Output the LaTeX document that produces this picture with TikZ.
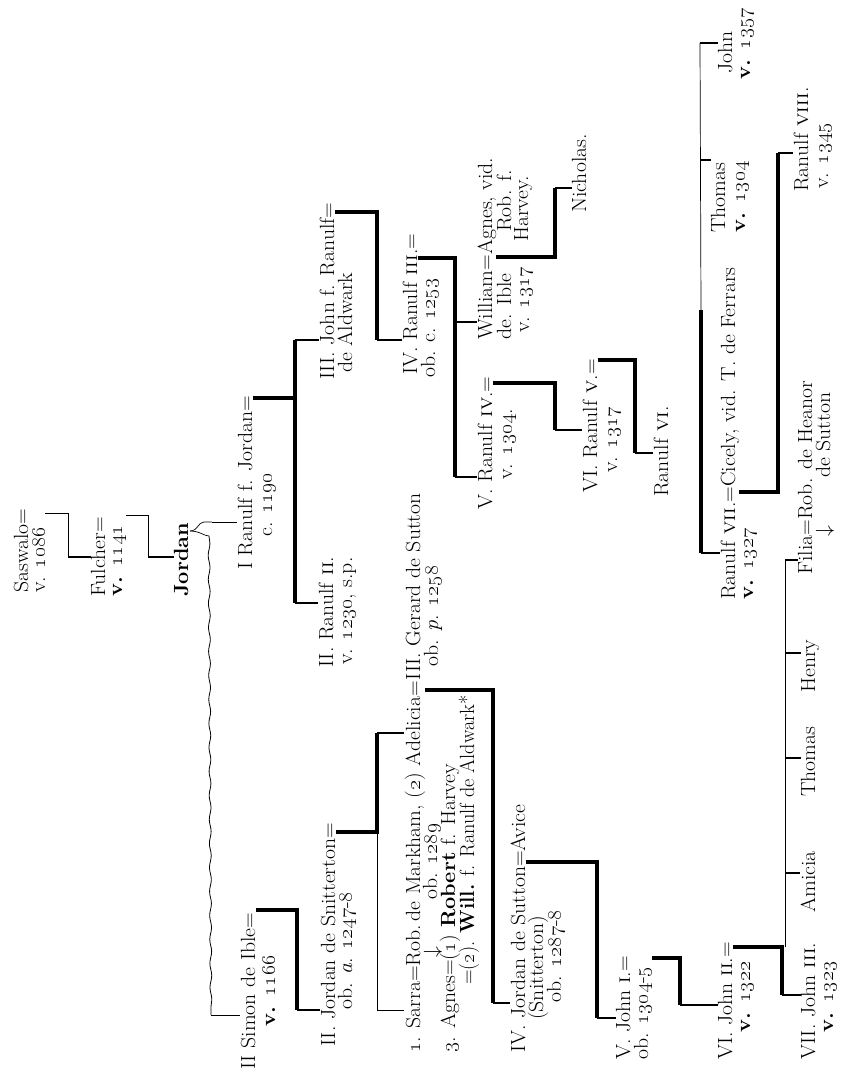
\RequirePackage{fix-cm}
\documentclass[tikz,border=0pt]{standalone}
\usetikzlibrary{decorations.pathmorphing}
\newcommand\os[1]{\oldstylenums{#1}}
\newcommand\rn[1]{\textsc{#1}}
\begin{document}
\begin{tikzpicture}[x=1pt,y=-1pt,
  lbl/.style={rotate=90,xscale=1.06,anchor=base west,inner sep=0pt,
              font=\fontsize{20.5}{22}\selectfont},
  heavy/.style={line width=3.4pt,line join=miter},
  light/.style={line width=0.7pt},
  dtick/.style={line width=2.8pt},
  wavy/.style={line width=0.8pt,decorate,
               decoration={snake,amplitude=0.9pt,segment length=24pt}}]
\useasboundingbox[fill=white] (0,0) rectangle (842,1073);

% ---------- early generations ----------
\node[lbl] (sas1) at (28,593) {Saswalo=};
\node[lbl] (sas2) at (45,593) {v. \os{1086}};
\node[lbl] (ful1) at (105,597) {Fulcher=};
\node[lbl] (ful2) at (122,597) {\textbf{v. \os{1141}}};
\node[lbl] (jor)  at (188,597) {\textbf{Jordan}};

\node[lbl] (ran1a) at (252,570) {I Ranulf f. Jordan=};
\node[lbl] (ran1b) at (272,537) {c. \os{1190}};
\node[lbl] (sim1) at (255,1070) {II Simon de Ible=};
\node[lbl] (sim2) at (275,1027) {\textbf{v. \os{1166}}};

% ---------- line of Ranulf ----------
\node[lbl] (ran2a) at (333,668) {II. Ranulf \rn{ii}.};
\node[lbl] (ran2b) at (352,665) {v. \os{1230}, s.p.};
\node[lbl] (joh1a) at (334,380) {III. John f. Ranulf=};
\node[lbl] (joh1b) at (352,373) {de Aldwark};
\node[lbl] (ran3a) at (417,375) {IV. Ranulf \rn{iii}.=};
\node[lbl] (ran3b) at (435,378) {ob. c. \os{1253}};
\node[lbl] (wil1) at (492,340) {William=Agnes, vid.};
\node[lbl] (wil2) at (511,340) {de. Ible};
\node[lbl] (wil3) at (511,232) {Rob. f.};
\node[lbl] (wil4) at (529,333) {v. \os{1317}};
\node[lbl] (wil5) at (528,242) {Harvey.};
\node[lbl] (nic)  at (586,213) {Nicholas.};
\node[lbl] (ran4a) at (492,510) {V. Ranulf \rn{iv}.=};
\node[lbl] (ran4b) at (512,480) {v. \os{1304}.};
\node[lbl] (ran5a) at (597,493) {VI. Ranulf \rn{v}.=};
\node[lbl] (ran5b) at (617,473) {v. \os{1317}};
\node[lbl] (ran6)  at (668,497) {Ranulf \rn{vi}.};
\node[lbl] (jo57a) at (732,74) {John};
\node[lbl] (jo57b) at (750,80) {\textbf{v. \os{1357}}};
\node[lbl] (th04a) at (725,233) {Thomas};
\node[lbl] (th04b) at (745,233) {\textbf{v. \os{1304}}};
\node[lbl] (ran7a) at (735,600) {Ranulf \rn{vii}.=Cicely, vid. T. de Ferrars};
\node[lbl] (ran7b) at (753,600) {\textbf{v. \os{1327}}};
\node[lbl] (ran8a) at (808,192) {Ranulf \rn{viii}.};
\node[lbl] (ran8b) at (828,189) {v. \os{1345}};

% ---------- line of Snitterton and Sutton ----------
\node[lbl] (jsn1) at (335,1047) {II. Jordan de Snitterton=};
\node[lbl] (jsn2) at (352,1010) {ob. \textit{a}. \os{1247}-\os{8}};
\node[lbl] (sar1) at (420,1053) {\os{1}. Sarra=Rob.\,de Markham, (\os{2}) Adelicia};
\node[lbl] (ger1) at (sar1.base east) {=III. Gerard de Sutton};
\node[lbl] (sarr) at (438,958) {$\downarrow$};
\node[lbl] (sar2) at (437,900) {ob. \os{1289}};
\node[lbl] (ger2) at (438,667) {ob. \textit{p}. \os{1258}};
\node[lbl] (agn1) at (455,1053) {\os{3}. Agnes=(\os{1}) \textbf{Robert} f. Harvey};
\node[lbl,xscale=0.93] (agn2) at (474,985) {=(\os{2}). \textbf{Will.} f. Ranulf de Aldwark*};
\node[lbl] (jsu1) at (525,1053) {IV. Jordan de Sutton=Avice};
\node[lbl] (jsu2) at (543,1020) {(Snitterton)};
\node[lbl] (jsu3) at (561,1003) {ob. \os{1287}-\os{8}};
\node[lbl] (jo1a) at (630,1060) {V. John \rn{i}.=};
\node[lbl] (jo1b) at (648,1060) {ob. \os{1304}-\os{5}};
\node[lbl] (jo2a) at (732,1060) {VI. John \rn{ii}.=};
\node[lbl] (jo2b) at (750,1033) {\textbf{v. \os{1322}}};
\node[lbl] (jo3a) at (815,1060) {VII. John \rn{iii}.};
\node[lbl] (jo3b) at (833,1033) {\textbf{v. \os{1323}}};
\node[lbl] (ami)  at (815,913) {Amicia};
\node[lbl] (th2)  at (815,797) {Thomas};
\node[lbl] (hen)  at (815,693) {Henry};
\node[lbl] (fil1) at (812,575) {Filia=Rob. de Heanor};
\node[lbl] (filr) at (830,537) {$\downarrow$};
\node[lbl] (fil2) at (830,478) {de Sutton};

% ---------- junction points ----------
\coordinate (sasT) at (68,513);  \coordinate (sasB) at (68,557);
\coordinate (fulT) at (148,515); \coordinate (fulB) at (148,557);
\coordinate (brA) at (190,531);  \coordinate (brR) at (212,522);
\coordinate (wavS) at (209,536); \coordinate (wavE) at (211,1015);
\coordinate (r1M) at (295,398);  \coordinate (r1T) at (295,340); \coordinate (r1B) at (295,603);
\coordinate (jhT) at (377,212);  \coordinate (jhB) at (377,340);
\coordinate (r3T) at (455,258);  \coordinate (r3W) at (455,322); \coordinate (r3B) at (455,477);
\coordinate (wlT) at (555,257);  \coordinate (wlB) at (555,188);
\coordinate (r4T) at (555,383);  \coordinate (r4B) at (555,430);
\coordinate (r5T) at (635,360);  \coordinate (r5B) at (635,453);
\coordinate (sbJ) at (700,43);   \coordinate (sbT) at (700,160);
\coordinate (sbM) at (701,310);  \coordinate (sbR) at (701,553);
\coordinate (r7T) at (778,492);  \coordinate (r7B) at (778,153);
\coordinate (smT) at (297,910);  \coordinate (smB) at (297,1010);
\coordinate (jsT) at (377,832);  \coordinate (jsA) at (377,733); \coordinate (jsS) at (377,1010);
\coordinate (adT) at (493,690);  \coordinate (adB) at (493,1003);
\coordinate (suT) at (597,862);  \coordinate (suB) at (597,1018);
\coordinate (j1T) at (680,958);  \coordinate (j1B) at (680,1005);
\coordinate (j2T) at (782,947);  \coordinate (j2B) at (782,995);
\coordinate (fsT) at (785,947);  \coordinate (fsF) at (785,560);
\coordinate (fsH) at (785,653);  \coordinate (fsO) at (785,758); \coordinate (fsA) at (785,873);

% ---------- connectors ----------
% Saswalo -> Fulcher -> Jordan
\draw[light] (sas2.south |- sasT) -- (sasT) -- (sasB);
\draw[dtick] (sasB) -- (ful1.north |- sasB);
\draw[light] (ful2.south |- fulT) -- (fulT) -- (fulB);
\draw[dtick] (fulB) -- (jor.north |- fulB);
% Jordan's two sons: brace, short branch and long wavy branch
\draw[light] (brA) .. controls (198,531) and (198,522) .. (204,522) -- (brR);
\draw[light] (brA) .. controls (200,531) and (204,536) .. (wavS);
\draw[light] (brR) -- (ran1a.north |- brR);
\draw[wavy] (wavS) -- (wavE);
\draw[light] (wavE) -- (sim1.north |- wavE);
% I Ranulf's sons
\draw[heavy] (ran1a.south |- r1M) -- (r1M);
\draw[heavy] (r1T) -- (r1B);
\draw[dtick] (r1T) -- (joh1a.north |- r1T);
\draw[dtick] (r1B) -- (ran2a.north |- r1B);
% III John -> IV Ranulf iii
\draw[heavy] (joh1a.south |- jhT) -- (jhT) -- (jhB);
\draw[dtick] (jhB) -- (ran3a.north |- jhB);
% IV Ranulf iii -> William, V Ranulf iv
\draw[heavy] (ran3a.south |- r3T) -- (r3T) -- (r3B);
\draw[dtick] (r3W) -- (wil1.north |- r3W);
\draw[dtick] (r3B) -- (ran4a.north |- r3B);
% William -> Nicholas
\draw[heavy] (wil1.south |- wlT) -- (wlT) -- (wlB);
\draw[dtick] (wlB) -- (nic.north |- wlB);
% V Ranulf iv -> VI Ranulf v -> Ranulf vi
\draw[heavy] (ran4a.south |- r4T) -- (r4T) -- (r4B);
\draw[dtick] (r4B) -- (ran5a.north |- r4B);
\draw[heavy] (ran5a.south |- r5T) -- (r5T) -- (r5B);
\draw[dtick] (r5B) -- (ran6.north |- r5B);
% Ranulf vii, Thomas, John
\draw[light] (sbJ) -- (sbM);
\draw[heavy] (sbM) -- (sbR);
\draw[dtick] (sbJ) -- (jo57a.north |- sbJ);
\draw[dtick] (sbT) -- (th04a.north |- sbT);
\draw[dtick] (sbR) -- (ran7a.north |- sbR);
% Ranulf vii -> Ranulf viii
\draw[heavy] (ran7a.south |- r7T) -- (r7T) -- (r7B);
\draw[dtick] (r7B) -- (ran8a.north |- r7B);
% II Simon -> II Jordan de Snitterton
\draw[heavy] (sim1.south |- smT) -- (smT) -- (smB);
\draw[dtick] (smB) -- (jsn1.north |- smB);
% Jordan de Snitterton's daughters
\draw[heavy] (jsn1.south |- jsT) -- (jsT) -- (jsA);
\draw[dtick] (jsA) -- (sar1.north |- jsA);
\draw[light] (jsT) -- (jsS);
\draw[light] (jsS) -- (sar1.north |- jsS);
% Adelicia = Gerard -> IV Jordan de Sutton
\draw[heavy] (sar1.south |- adT) -- (adT) -- (adB);
\draw[dtick] (adB) -- (jsu1.north |- adB);
% IV Jordan de Sutton -> V John i -> VI John ii
\draw[heavy] (jsu1.south |- suT) -- (suT) -- (suB);
\draw[dtick] (suB) -- (jo1a.north |- suB);
\draw[heavy] (jo1b.south |- j1T) -- (j1T) -- (j1B);
\draw[dtick] (j1B) -- (jo2a.north |- j1B);
% VI John ii's children
\draw[heavy] (jo2a.south |- j2T) -- (j2T) -- (j2B);
\draw[dtick] (j2B) -- (jo3a.north |- j2B);
\draw[light] (fsT) -- (fsF);
\draw[dtick] (fsA) -- (ami.north |- fsA);
\draw[dtick] (fsO) -- (th2.north |- fsO);
\draw[dtick] (fsH) -- (hen.north |- fsH);
\draw[dtick] (fsF) -- (fil1.north |- fsF);
\end{tikzpicture}
\end{document}
